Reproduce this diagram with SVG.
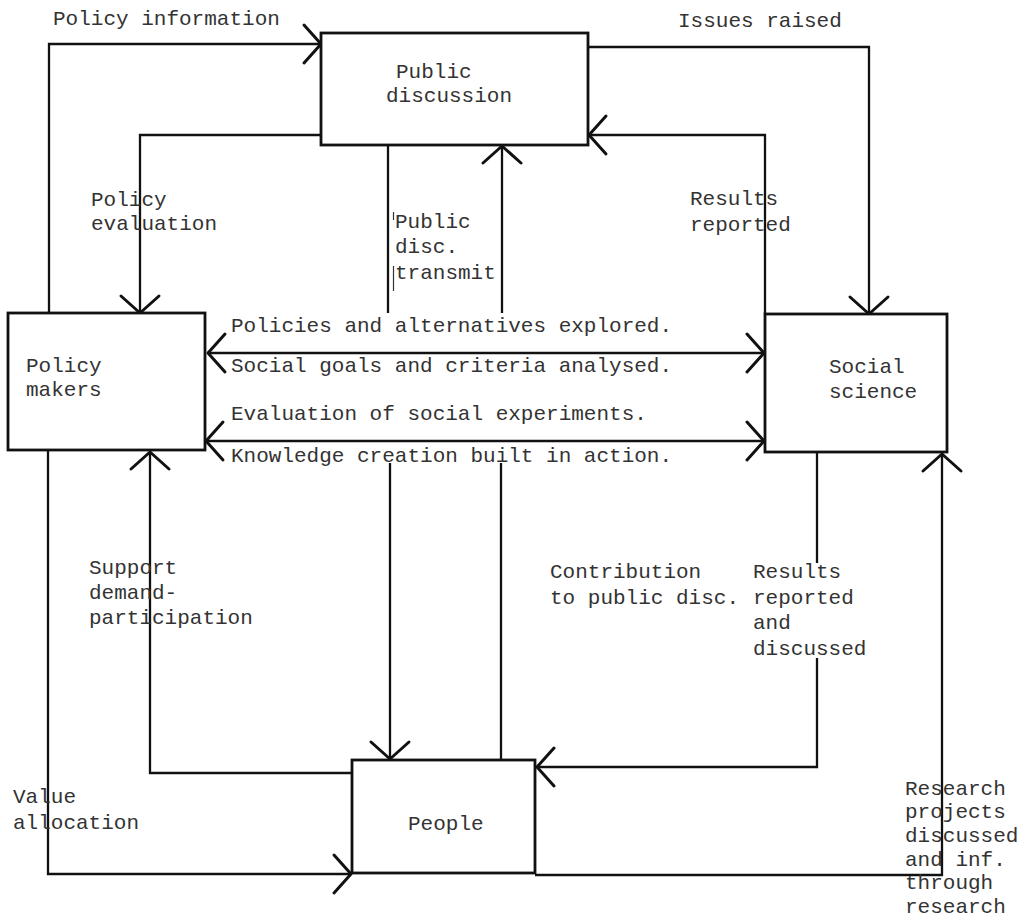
<svg xmlns="http://www.w3.org/2000/svg" width="1030" height="923" viewBox="0 0 1030 923">
<style>
.box{fill:#fff;stroke:#111;stroke-width:2.8}
.c{fill:none;stroke:#111;stroke-width:2.3}
.art{fill:none;stroke:#333;stroke-width:1.2}
.t{font-family:"Liberation Mono","DejaVu Sans Mono",monospace;font-size:21px;fill:#333}
</style>
<defs>
<marker id="arr" viewBox="-24 -24 48 48" markerWidth="48" markerHeight="48" refX="0" refY="0" orient="auto" markerUnits="userSpaceOnUse" overflow="visible">
<path d="M-17,-19 L0,0 L-17,19" fill="none" stroke="#111" stroke-width="3" stroke-linecap="round" stroke-linejoin="round"/>
</marker>
<marker id="arrS" viewBox="-24 -24 48 48" markerWidth="48" markerHeight="48" refX="0" refY="0" orient="auto" markerUnits="userSpaceOnUse" overflow="visible">
<path d="M17,-19 L0,0 L17,19" fill="none" stroke="#111" stroke-width="3" stroke-linecap="round" stroke-linejoin="round"/>
</marker>
</defs>
<rect width="1030" height="923" fill="#fff"/>

<g id="connectors">
<!-- Policy information -->
<path class="c" d="M49,313 V44 H321" marker-end="url(#arr)"/>
<!-- Policy evaluation -->
<path class="c" d="M321,135 H140 V313" marker-end="url(#arr)"/>
<!-- Issues raised -->
<path class="c" d="M588,47 H869 V314" marker-end="url(#arr)"/>
<!-- Results reported -->
<path class="c" d="M765,314 V135 H589" marker-end="url(#arr)"/>
<!-- Public disc. transmit (down to People) -->
<path class="c" d="M388,145 V313"/>
<path class="c" d="M390,463 V759" marker-end="url(#arr)"/>
<path class="art" d="M393.5,212 V220 M393.5,266 V291"/>
<!-- Contribution to public disc. (up) -->
<path class="c" d="M501,760 V463"/>
<path class="c" d="M502,313 V146" marker-end="url(#arr)"/>
<!-- Policies / Social goals double arrow -->
<path class="c" d="M208,353 H764" marker-start="url(#arrS)" marker-end="url(#arr)"/>
<!-- Evaluation / Knowledge double arrow -->
<path class="c" d="M206,441 H764" marker-start="url(#arrS)" marker-end="url(#arr)"/>
<!-- Support demand-participation -->
<path class="c" d="M352,773 H150 V452" marker-end="url(#arr)"/>
<!-- Value allocation -->
<path class="c" d="M48,450 V874 H351" marker-end="url(#arr)"/>
<!-- Results reported and discussed -->
<path class="c" d="M817,452 V563"/>
<path class="c" d="M817,658 V767 H537" marker-end="url(#arr)"/>
<!-- Research projects -->
<path class="c" d="M535,875 H942 V454" marker-end="url(#arr)"/>
</g>

<g id="public-discussion">
<rect class="box" x="321" y="33" width="267" height="112"/>
<text class="t" x="396" y="78">Public</text>
<text class="t" x="386" y="102">discussion</text>
</g>

<g id="policy-makers">
<rect class="box" x="8" y="313" width="197" height="137"/>
<text class="t" x="26" y="372">Policy</text>
<text class="t" x="26" y="396">makers</text>
</g>

<g id="social-science">
<rect class="box" x="765" y="314" width="182" height="138"/>
<text class="t" x="829" y="373">Social</text>
<text class="t" x="829" y="398">science</text>
</g>

<g id="people">
<rect class="box" x="352" y="760" width="183" height="113"/>
<text class="t" x="408" y="830">People</text>
</g>

<g id="labels">
<text class="t" x="53" y="25">Policy information</text>
<text class="t" x="678" y="27">Issues raised</text>
<text class="t" x="91" y="206">Policy</text>
<text class="t" x="91" y="230">evaluation</text>
<text class="t" x="395" y="228">Public</text>
<text class="t" x="395" y="253">disc.</text>
<text class="t" x="395" y="279">transmit</text>
<text class="t" x="690" y="205">Results</text>
<text class="t" x="690" y="231">reported</text>
<text class="t" x="231" y="332">Policies and alternatives explored.</text>
<text class="t" x="231" y="372">Social goals and criteria analysed.</text>
<text class="t" x="231" y="420">Evaluation of social experiments.</text>
<text class="t" x="231" y="462">Knowledge creation built in action.</text>
<text class="t" x="89" y="574">Support</text>
<text class="t" x="89" y="599">demand-</text>
<text class="t" x="89" y="624">participation</text>
<text class="t" x="13" y="803">Value</text>
<text class="t" x="13" y="829">allocation</text>
<text class="t" x="550" y="578">Contribution</text>
<text class="t" x="550" y="604">to public disc.</text>
<text class="t" x="753" y="578">Results</text>
<text class="t" x="753" y="604">reported</text>
<text class="t" x="753" y="629">and</text>
<text class="t" x="753" y="655">discussed</text>
<text class="t" x="905" y="795">Research</text>
<text class="t" x="905" y="818">projects</text>
<text class="t" x="905" y="842">discussed</text>
<text class="t" x="905" y="866">and inf.</text>
<text class="t" x="905" y="889">through</text>
<text class="t" x="905" y="913">research</text>
</g>
</svg>
